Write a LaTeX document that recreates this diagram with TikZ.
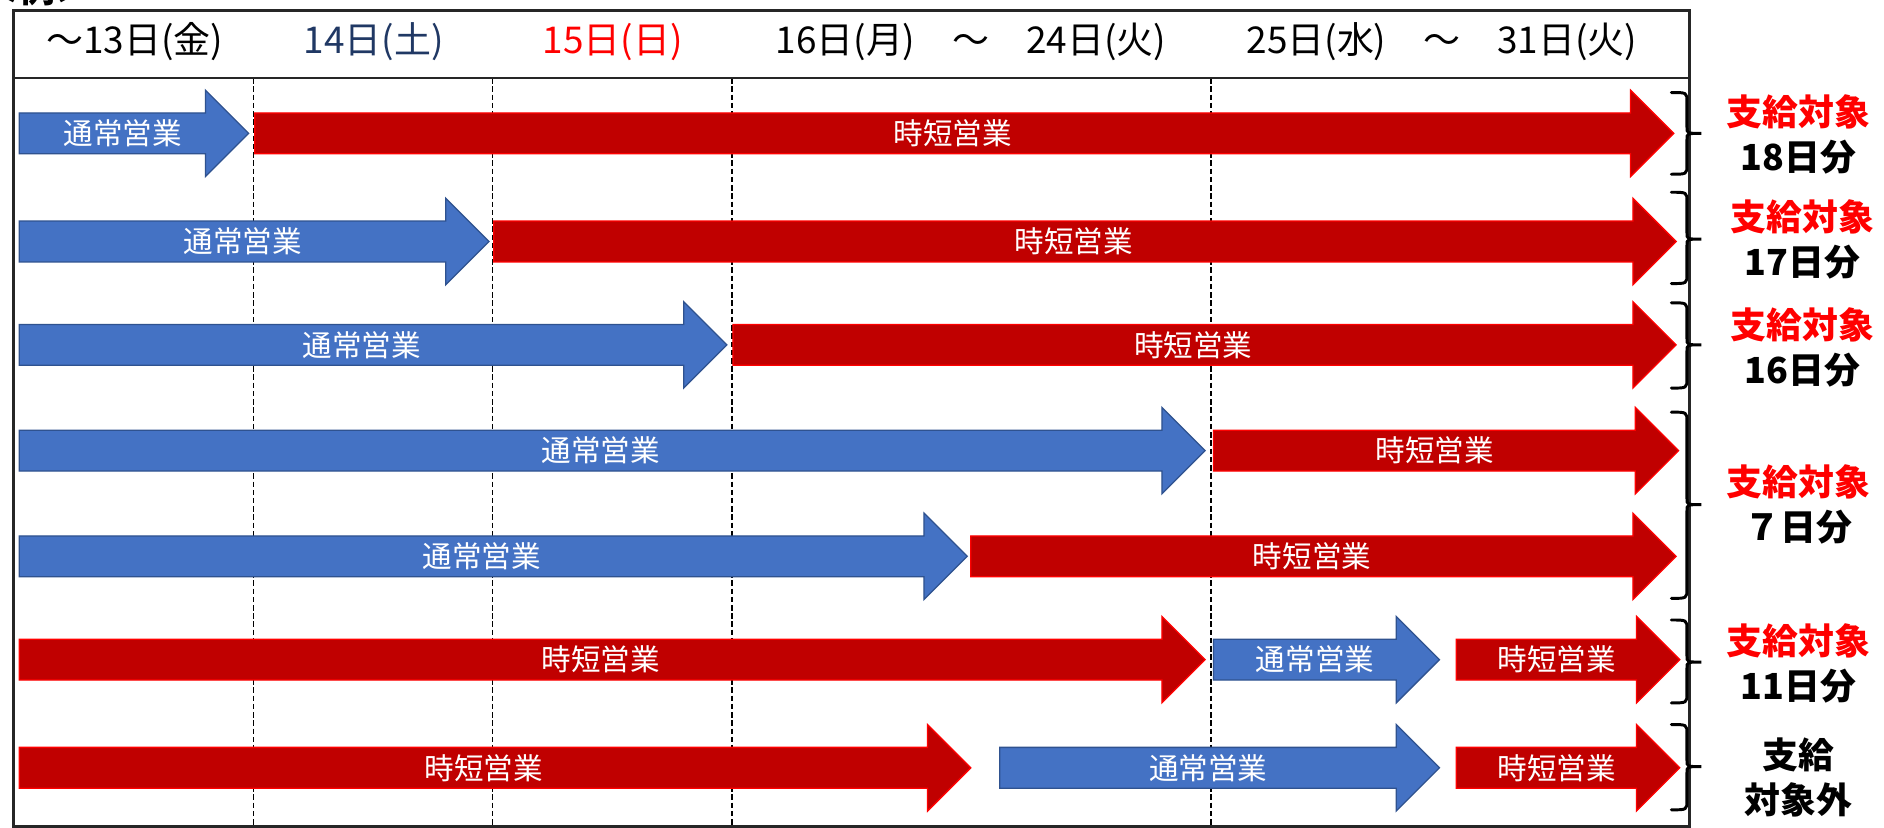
\documentclass[tikz,border=0pt]{standalone}
\usepackage{fontspec}
\setmainfont{Noto Sans CJK JP}
\definecolor{blueF}{HTML}{4472C4}
\definecolor{blueD}{HTML}{2F528F}
\definecolor{redF}{HTML}{C00000}
\definecolor{redD}{HTML}{FF0000}
\definecolor{navy}{HTML}{203864}
\definecolor{frameC}{HTML}{262626}
\tikzset{
  normalop/.style={fill=blueF, draw=blueD, line width=0.6pt, line join=miter},
  shortop/.style={fill=redF, draw=redD, line width=0.6pt, line join=miter},
  arrowlbl/.style={text=white, font=\fontsize{14}{16}\selectfont, inner sep=0pt},
  hdr/.style={font=\fontsize{17.5}{20}\selectfont, inner sep=0pt},
  sidelbl/.style={font=\bfseries\fontsize{17}{21.3}\selectfont, align=center, inner sep=0pt},
  bracelin/.style={line width=1.4pt, black, line cap=round},
  daygrid/.style={line width=0.8pt, black, dash pattern=on 2.6pt off 1.3pt},
  framelin/.style={line width=1.3pt, frameC}
}
% name, x1, x2, y, style, text
\newcommand{\opArrow}[6]{%
  \draw[#5] (#2,#4-17) -- (#3-36,#4-17) -- (#3-36,#4-36) -- (#3,#4) -- (#3-36,#4+36) -- (#3-36,#4+17) -- (#2,#4+17) -- cycle;
  \node[arrowlbl] (#1) at ({(#2+#3-19)/2},#4) {#6};
}
% name, top, bottom, mid
\newcommand{\opBrace}[4]{%
  \draw[bracelin] (1391,#2) .. controls (1404,#2) .. (1404,#2+8) -- (1404,#4-5) .. controls (1404,#4) .. (1416,#4)
    .. controls (1404,#4) .. (1404,#4+5) -- (1404,#3-8) .. controls (1404,#3) .. (1391,#3);
  \coordinate (#1) at (1416,#4);
}
\begin{document}
\begin{tikzpicture}[x=0.02cm, y=-0.02cm]
\useasboundingbox (0,0) rectangle (1568,689.1);
\fill[white] (0,0) rectangle (1568,689.1);
% cut-off title
\node[font=\bfseries\fontsize{17}{20}\selectfont, anchor=base west, inner sep=0pt] (title) at (-14,2) {＜例＞};
% grid
\foreach \gx/\gn in {211/ga, 410/gb, 609/gc, 1008/gd} {
  \coordinate (\gn-t) at (\gx,65);
  \coordinate (\gn-b) at (\gx,688);
  \draw[daygrid] (\gn-t) -- (\gn-b);
}
% frame
\coordinate (fr-nw) at (11,8.5);
\coordinate (fr-se) at (1406,688);
\coordinate (hd-w) at (11,65);
\coordinate (hd-e) at (1406,65);
\draw[framelin] (fr-nw) rectangle (fr-se);
\draw[framelin] (hd-w) -- (hd-e);
% header
\node[hdr] (h1) at (112,35) {～13日(金)};
\node[hdr, text=navy] (h2) at (311,35) {14日(土)};
\node[hdr, text=redD] (h3) at (510,35) {15日(日)};
\node[hdr] (h4) at (808,35) {16日(月)　～　24日(火)};
\node[hdr] (h5) at (1200,35) {25日(水)　～　31日(火)};
% rows
\opArrow{r1a}{16}{207}{111}{normalop}{通常営業}
\opArrow{r1b}{212}{1393}{111}{shortop}{時短営業}
\opArrow{r2a}{16}{407}{201}{normalop}{通常営業}
\opArrow{r2b}{411}{1395}{201}{shortop}{時短営業}
\opArrow{r3a}{16}{605}{287}{normalop}{通常営業}
\opArrow{r3b}{610}{1395}{287}{shortop}{時短営業}
\opArrow{r4a}{16}{1003}{375}{normalop}{通常営業}
\opArrow{r4b}{1010}{1397}{375}{shortop}{時短営業}
\opArrow{r5a}{16}{805}{463}{normalop}{通常営業}
\opArrow{r5b}{808}{1395}{463}{shortop}{時短営業}
\opArrow{r6a}{16}{1003}{549}{shortop}{時短営業}
\opArrow{r6b}{1010}{1198}{549}{normalop}{通常営業}
\opArrow{r6c}{1212}{1398}{549}{shortop}{時短営業}
\opArrow{r7a}{16}{808}{639}{shortop}{時短営業}
\opArrow{r7b}{832}{1198}{639}{normalop}{通常営業}
\opArrow{r7c}{1212}{1398}{639}{shortop}{時短営業}
% braces
\opBrace{b1}{77}{145}{111}
\opBrace{b2}{160}{236}{199}
\opBrace{b3}{252}{323}{287}
\opBrace{b4}{343}{498}{420}
\opBrace{b6}{516}{585}{551}
\opBrace{b7}{603}{674}{638}
% side labels
\node[sidelbl] (s1) at (1497,112) {\textcolor{redD}{支給対象}\\18日分};
\node[sidelbl] (s2) at (1500,199) {\textcolor{redD}{支給対象}\\17日分};
\node[sidelbl] (s3) at (1500,289) {\textcolor{redD}{支給対象}\\16日分};
\node[sidelbl] (s4) at (1497,420) {\textcolor{redD}{支給対象}\\７日分};
\node[sidelbl] (s6) at (1497,552) {\textcolor{redD}{支給対象}\\11日分};
\node[sidelbl] (s7) at (1497,647) {支給\\対象外};
\end{tikzpicture}
\end{document}
